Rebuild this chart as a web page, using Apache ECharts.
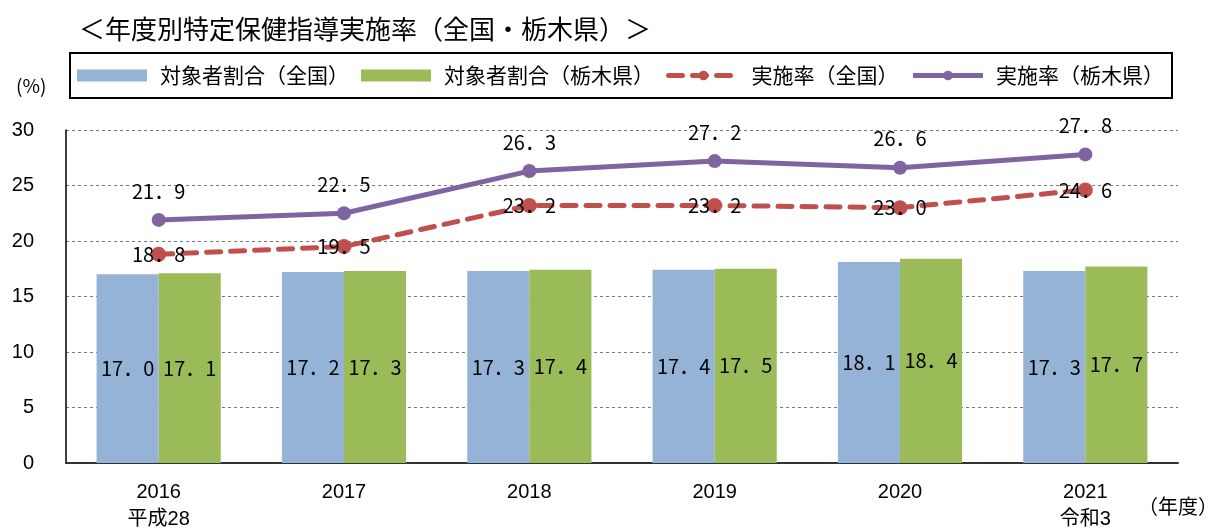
<!DOCTYPE html>
<html>
<head>
<meta charset="utf-8">
<script src="https://cdn.jsdelivr.net/npm/echarts@6/dist/echarts.min.js"></script>
<style>
  html, body { margin: 0; padding: 0; background: #fff; }
  #chart { width: 1209px; height: 531px; }
</style>
</head>
<body>
<div id="chart"></div>
<script>
// 年度別特定保健指導実施率（全国・栃木県）
var years = ['2016\n平成28', '2017', '2018', '2019', '2020', '2021\n令和3']
var targetNational = [17.0, 17.2, 17.3, 17.4, 18.1, 17.3]
var targetTochigi = [17.1, 17.3, 17.4, 17.5, 18.4, 17.7]
var rateNational = [18.8, 19.5, 23.2, 23.2, 23.0, 24.6]
var rateTochigi = [21.9, 22.5, 26.3, 27.2, 26.6, 27.8]

var jpFont = '"Noto Sans CJK JP", sans-serif'
var numFont = '"Liberation Sans", "Noto Sans CJK JP", sans-serif'

// 17.0 -> 17．0 (全角ピリオド)
function fmt (p) {
  return p.value.toFixed(1).replace('.', '．')
}

var myChart = echarts.init(document.getElementById('chart'))

var option = {
  animation: false,
  title: {
    text: '＜年度別特定保健指導実施率（全国・栃木県）＞',
    left: 74,
    top: 11,
    textStyle: { fontFamily: jpFont, fontSize: 26, fontWeight: 'normal', color: '#000' }
  },
  graphic: [
    { type: 'text', left: 16, top: 76, style: { text: '(%)', font: '19px ' + jpFont, fill: '#000' } },
    { type: 'text', left: 1138, top: 496, style: { text: '（年度）', font: '20px ' + jpFont, fill: '#000' } }
  ],
  legend: {
    left: 70,
    top: 53,
    padding: [12, 8, 12, 7],
    borderColor: '#000',
    borderWidth: 2,
    itemWidth: 70,
    itemHeight: 12,
    itemGap: 12,
    textStyle: { fontFamily: jpFont, fontSize: 21, color: '#000', padding: [0, 0, 0, 8] },
    data: [
      { name: '対象者割合（全国）', icon: 'rect' },
      { name: '対象者割合（栃木県）', icon: 'rect' },
      { name: '実施率（全国）', lineStyle: { width: 5 } },
      { name: '実施率（栃木県）', lineStyle: { width: 5 } }
    ]
  },
  grid: { left: 66, right: 31, top: 130, bottom: 68, outerBoundsMode: 'none', containLabel: false },
  xAxis: {
    type: 'category',
    data: years,
    axisLine: { lineStyle: { color: '#333', width: 2 } },
    axisTick: { show: false },
    axisLabel: { fontFamily: numFont, fontSize: 20, color: '#000', margin: 16, lineHeight: 27 }
  },
  yAxis: {
    type: 'value',
    min: 0,
    max: 30,
    interval: 5,
    axisLine: { show: true, lineStyle: { color: '#000', width: 1.5 } },
    axisTick: { show: false },
    axisLabel: { fontFamily: numFont, fontSize: 20, color: '#000', margin: 32 },
    splitLine: { lineStyle: { color: '#777', type: [3, 3], width: 1 } }
  },
  series: [
    {
      name: '対象者割合（全国）',
      type: 'bar',
      data: targetNational,
      barGap: '0%',
      barCategoryGap: '33%',
      itemStyle: { color: '#95B3D7' },
      label: { show: true, position: 'inside', formatter: fmt, fontFamily: jpFont, fontSize: 20, color: '#000' }
    },
    {
      name: '対象者割合（栃木県）',
      type: 'bar',
      data: targetTochigi,
      itemStyle: { color: '#9BBB59' },
      label: { show: true, position: 'inside', formatter: fmt, fontFamily: jpFont, fontSize: 20, color: '#000' }
    },
    {
      name: '実施率（全国）',
      type: 'line',
      data: rateNational,
      symbol: 'circle',
      symbolSize: 15,
      itemStyle: { color: '#C0504D' },
      lineStyle: { color: '#C0504D', width: 5, type: [14, 10], cap: 'round' },
      label: { show: true, position: 'inside', formatter: fmt, fontFamily: jpFont, fontSize: 20, color: '#000' },
      z: 3
    },
    {
      name: '実施率（栃木県）',
      type: 'line',
      data: rateTochigi,
      symbol: 'circle',
      symbolSize: 14,
      itemStyle: { color: '#8064A2' },
      lineStyle: { color: '#8064A2', width: 5 },
      label: { show: true, position: 'top', distance: 12, formatter: fmt, fontFamily: jpFont, fontSize: 20, color: '#000' },
      z: 4
    }
  ]
}

myChart.setOption(option)
</script>
</body>
</html>
